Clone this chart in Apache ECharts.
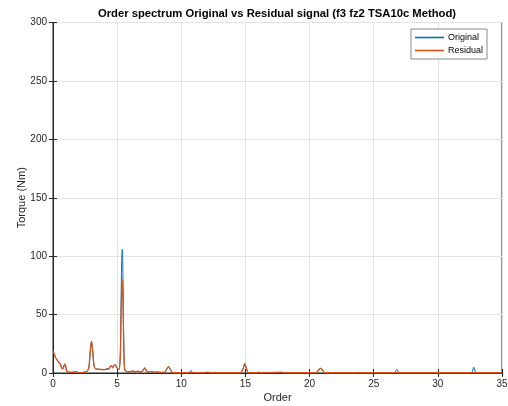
<!DOCTYPE html>
<html>
<head>
<meta charset="utf-8">
<script src="https://cdn.jsdelivr.net/npm/echarts@6/dist/echarts.min.js"></script>
<style>
  html, body { margin: 0; padding: 0; background: #fff; }
  #chart { width: 508px; height: 406px; }
</style>
</head>
<body>
<div id="chart"></div>
<script>
// order values / torque (Nm)
const residualOrder = [0, 0.1, 0.2, 0.3, 0.45, 0.55, 0.65, 0.75, 0.85, 0.92, 1.0, 1.08, 1.2, 1.5, 1.8, 1.9, 2.2, 2.5, 2.7, 2.8, 2.9, 3.0, 3.1, 3.2, 3.3, 3.5, 3.8, 4.0, 4.2, 4.35, 4.45, 4.55, 4.65, 4.75, 4.85, 4.95, 5.05, 5.15, 5.25, 5.3, 5.35, 5.4, 5.45, 5.5, 5.55, 5.6, 5.7, 5.8, 6.0, 6.2, 6.4, 6.6, 6.8, 7.0, 7.15, 7.3, 7.5, 7.7, 7.9, 8.1, 8.3, 8.7, 8.85, 9.0, 9.15, 9.3, 9.6, 10.5, 10.8, 11.5, 12.0, 12.5, 14.6, 14.8, 14.95, 15.1, 15.25, 17.8, 18.2, 20.5, 20.7, 20.85, 21.0, 21.2, 35];
const residualTorque = [18.6, 16, 13, 11.5, 9, 8, 5, 3.5, 6, 7.7, 5, 1.5, 0.8, 0.6, 1.1, 0.5, 0.4, 0.8, 2, 5, 18, 27, 18, 6, 3.8, 3.2, 3, 2.8, 3.3, 3.5, 5.5, 6, 4.5, 6.5, 7, 5, 3.5, 3, 15, 45, 70, 80, 65, 30, 8, 2.5, 1.5, 1.2, 1, 1.8, 1, 1.5, 1, 2, 4.3, 1.5, 0.8, 1.2, 0.6, 1, 0.5, 0.6, 3, 5.4, 3, 0.5, 0.2, 0.2, 0.4, 0.2, 0.6, 0.2, 0.2, 3, 8, 3, 0.2, 0.6, 0.2, 0.2, 2.5, 4, 2.5, 0.2, 0.2];

const originalOrder = [0, 0.1, 0.2, 0.3, 0.45, 0.55, 0.65, 0.75, 0.85, 0.92, 1.0, 1.08, 1.2, 1.5, 1.8, 1.9, 2.2, 2.5, 2.7, 2.8, 2.9, 3.0, 3.1, 3.2, 3.3, 3.5, 3.8, 4.0, 4.2, 4.35, 4.45, 4.55, 4.65, 4.75, 4.85, 4.95, 5.05, 5.15, 5.25, 5.3, 5.35, 5.4, 5.45, 5.5, 5.55, 5.6, 5.7, 5.8, 6.0, 6.2, 6.4, 6.6, 6.8, 7.0, 7.15, 7.3, 7.5, 7.7, 7.9, 8.1, 8.3, 8.7, 8.85, 9.0, 9.15, 9.3, 9.6, 10.6, 10.75, 10.9, 11.5, 12.0, 12.5, 14.6, 14.8, 14.95, 15.1, 15.25, 15.9, 16.0, 16.1, 17.8, 18.2, 20.5, 20.7, 20.85, 21.0, 21.2, 23.7, 23.8, 23.9, 26.6, 26.8, 27.0, 29.7, 29.8, 29.9, 32.6, 32.8, 33.0, 35];
const originalTorque = [18.6, 16, 13, 11.5, 9, 8, 5, 3.5, 6, 7.7, 5, 1.5, 0.8, 0.6, 1.1, 0.5, 0.4, 0.8, 2, 5, 18, 27, 18, 6, 3.8, 3.2, 3, 2.8, 3.8, 3.5, 5.5, 6, 4.5, 6.5, 7, 5, 3.5, 3, 18, 55, 95, 106, 85, 40, 10, 2.5, 1.5, 1.2, 1, 1.8, 1, 1.5, 1, 2, 4.3, 1.5, 0.8, 1.2, 0.6, 1, 0.5, 0.6, 3, 5.4, 3, 0.5, 0.2, 0.3, 2.3, 0.3, 0.2, 0.6, 0.2, 0.2, 3, 8, 3, 0.2, 0.2, 0.9, 0.2, 0.6, 0.2, 0.2, 2.5, 4, 2.5, 0.2, 0.2, 0.8, 0.2, 0.2, 3.1, 0.2, 0.2, 0.7, 0.2, 0.2, 4.9, 0.2, 0.2];

const seriesNames = ['Original', 'Residual'];

function zip(xs, ys) {
  return xs.map((x, i) => [x, ys[i]]);
}

const chart = echarts.init(document.getElementById('chart'));
const font = 'Liberation Sans, Arial, Helvetica, sans-serif';
const axisGray = '#262626';

const option = {
  animation: false,
  color: ['#0072BD', '#D95319'],
  textStyle: { fontFamily: font },
  title: {
    text: 'Order spectrum Original vs Residual signal (f3 fz2 TSA10c Method)',
    left: 272,
    textAlign: 'center',
    top: 3,
    textStyle: { fontSize: 11.25, fontWeight: 'bold', color: '#000', fontFamily: font }
  },
  legend: {
    data: seriesNames,
    orient: 'vertical',
    right: 21,
    top: 29,
    icon: 'rect',
    itemWidth: 29,
    itemHeight: 1.6,
    itemGap: 2,
    padding: [3, 4, 3, 4],
    borderColor: '#888',
    borderWidth: 1,
    backgroundColor: '#fff',
    textStyle: { fontSize: 9, lineHeight: 11, color: '#000', fontFamily: font, padding: [0, 0, 0, -1] }
  },
  grid: {
    left: 53,
    right: 6,
    top: 22.5,
    bottom: 33,
    outerBoundsMode: 'none',
    show: true,
    borderColor: axisGray,
    borderWidth: 1
  },
  xAxis: [{
    type: 'value',
    min: 0,
    max: 35,
    interval: 5,
    name: 'Order',
    nameLocation: 'middle',
    nameGap: 19,
    nameMoveOverlap: false,
    nameTextStyle: { fontSize: 11, color: '#262626' },
    axisLine: { lineStyle: { color: axisGray } },
    axisTick: { inside: true, length: 4, lineStyle: { color: axisGray } },
    axisLabel: { fontSize: 10, color: '#262626', margin: 6 },
    splitLine: { lineStyle: { color: '#e3e3e3' } }
  }, {
    type: 'value',
    position: 'top',
    min: 0,
    max: 35,
    interval: 5,
    axisLine: { lineStyle: { color: axisGray } },
    axisTick: { inside: true, length: 4, lineStyle: { color: axisGray } },
    axisLabel: { show: false },
    splitLine: { show: false }
  }],
  yAxis: [{
    type: 'value',
    min: 0,
    max: 300,
    interval: 50,
    name: 'Torque (Nm)',
    nameLocation: 'middle',
    nameGap: 26,
    nameMoveOverlap: false,
    nameTextStyle: { fontSize: 11, color: '#262626' },
    axisLine: { show: true, lineStyle: { color: axisGray } },
    axisTick: { show: true, inside: true, length: 4, lineStyle: { color: axisGray } },
    axisLabel: { fontSize: 10, color: '#262626', margin: 6 },
    splitLine: { lineStyle: { color: '#e3e3e3' } }
  }, {
    type: 'value',
    position: 'right',
    min: 0,
    max: 300,
    interval: 50,
    axisLine: { show: true, lineStyle: { color: axisGray } },
    axisTick: { show: true, inside: true, length: 4, lineStyle: { color: axisGray } },
    axisLabel: { show: false },
    splitLine: { show: false }
  }],
  series: [{
    name: seriesNames[0],
    type: 'line',
    showSymbol: false,
    symbol: 'none',
    smooth: 0.3,
    lineStyle: { width: 1 },
    data: zip(originalOrder, originalTorque)
  }, {
    name: seriesNames[1],
    type: 'line',
    showSymbol: false,
    symbol: 'none',
    smooth: 0.3,
    lineStyle: { width: 1.3 },
    data: zip(residualOrder, residualTorque)
  }]
};

chart.setOption(option);
</script>
</body>
</html>
